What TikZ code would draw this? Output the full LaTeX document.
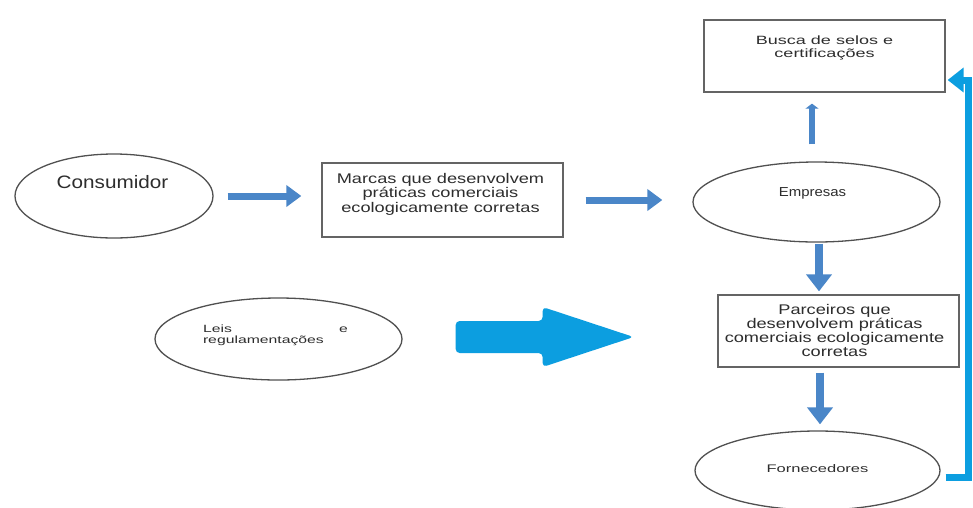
\documentclass[tikz,border=0pt]{standalone}
\usepackage{fontspec}
\setmainfont{Liberation Sans}
\newfontfamily\fA[FakeStretch=1.15]{Liberation Sans}
\newfontfamily\fB[FakeStretch=1.3]{Liberation Sans}
\newfontfamily\fC[FakeStretch=1.5]{Liberation Sans}
\usetikzlibrary{shapes.geometric,arrows.meta,calc}
\definecolor{arrblue}{RGB}{74,134,200}
\definecolor{bigblue}{RGB}{12,158,224}
\definecolor{shapeline}{RGB}{80,80,80}
\definecolor{boxline}{RGB}{100,100,100}
\definecolor{txt}{RGB}{45,45,45}
\begin{document}
\begin{tikzpicture}[x=1pt,y=-1pt,
  ell/.style={ellipse, draw=shapeline, line width=1.3pt, inner sep=0pt},
  rbox/.style={rectangle, draw=boxline, line width=1.3pt, inner sep=0pt},
  lbl/.style={text=txt, inner sep=0pt, align=center},
  flow/.style={draw=arrblue, line width=7pt, -{Triangle[length=15pt,width=21pt]}},
  vflow/.style={draw=arrblue, line width=8pt, -{Triangle[length=17pt,width=25pt]}},
  upflow/.style={draw=arrblue, line width=6pt, -{Triangle[length=5pt,width=13pt]}},
  fback/.style={draw=bigblue, line width=7pt, line join=miter, -{Triangle[length=16pt,width=24pt]}}
]
\useasboundingbox (0,0) rectangle (973,507);
\fill[white] (0,0) rectangle (973,507);

% shapes
\node[ell, minimum width=198pt, minimum height=84pt] (cons) at (114,196) {};
\node[rbox, minimum width=241pt, minimum height=74pt] (marcas) at (442.5,200) {};
\node[rbox, minimum width=241pt, minimum height=72pt] (busca) at (824.5,56) {};
\node[ell, minimum width=247pt, minimum height=80pt] (emp) at (816.5,202) {};
\node[rbox, minimum width=241pt, minimum height=72pt] (parc) at (838.5,331) {};
\node[ell, minimum width=245pt, minimum height=79pt] (forn) at (817.5,470.5) {};
\node[ell, minimum width=247pt, minimum height=82pt] (leis) at (278.5,339) {};

% texts
\node[lbl, font=\fA\fontsize{18}{20}\selectfont] (tcons) at ($(cons.center)+(-1.5pt,14pt)$) {Consumidor};
\node[lbl, font=\fB\fontsize{14}{14.5}\selectfont] (tmarcas) at ($(marcas.center)+(-2pt,6pt)$) {Marcas que desenvolvem\\práticas comerciais\\ecologicamente corretas};
\node[lbl, font=\fC\fontsize{12}{12.5}\selectfont] (tbusca) at ($(busca.center)+(0pt,8pt)$) {Busca de selos e\\certificações};
\node[lbl, font=\fA\fontsize{13}{14}\selectfont] (temp) at ($(emp.center)+(-4pt,8.5pt)$) {Empresas};
\node[lbl, font=\fB\fontsize{14}{14}\selectfont] (tparc) at ($(parc.center)+(-4pt,1pt)$) {Parceiros que\\desenvolvem práticas\\comerciais ecologicamente\\corretas};
\node[lbl, font=\fC\fontsize{11}{12}\selectfont] (tforn) at ($(forn.center)+(0pt,2pt)$) {Fornecedores};
\node[lbl, align=left, font=\fC\fontsize{10.5}{11}\selectfont] (tleis) at ($(leis.center)+(-3pt,4pt)$) {\makebox[145pt][l]{Leis\hfill e}\\regulamentações};

% connectors
\draw[flow] ($(cons.east)+(14pt,0pt)$) -- ($(cons.east -| marcas.west)+(-20pt,0pt)$);
\draw[flow] ($(marcas.east)+(22pt,0pt)$) -- ($(marcas.east -| emp.west)+(-30pt,0pt)$);
\draw[upflow] ($(emp.north)+(-4.5pt,17pt)$) -- ($(busca.south)+(-12.5pt,-11pt)$);
\draw[vflow] ($(emp.south)+(2.5pt,-1pt)$) -- ($(parc.north)+(-19.5pt,3pt)$);
\draw[vflow] ($(parc.south)+(-18.5pt,-5pt)$) -- ($(forn.north)+(2.5pt,6pt)$);

% big arrow from Leis e regulamentações
\coordinate (bs) at ($(leis.east)+(53pt,2pt)$);
\fill[bigblue, rounded corners=4pt] (bs) -- ++(0,-16) -- ++(87,0) -- ++(0,-14) -- ++(91,30) -- ++(-91,30) -- ++(0,-14) -- ++(-87,0) -- cycle;

% feedback line
\coordinate (fbx) at (968.5,300);
\draw[fback] ($(forn.east)+(5pt,-7pt)$) -| (fbx) |- ($(busca.east)+(2pt,-24pt)$);
\end{tikzpicture}
\end{document}
